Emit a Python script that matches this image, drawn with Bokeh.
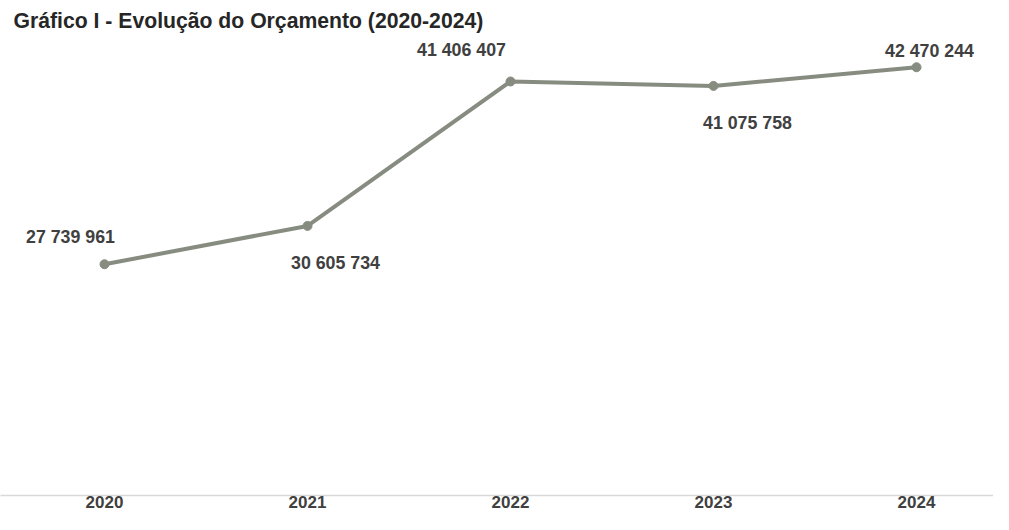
from bokeh.plotting import figure
from bokeh.models import ColumnDataSource, Range1d, FixedTicker, Label
from bokeh.core.properties import value
from bokeh.embed import file_html
from bokeh.resources import INLINE

# ---- data ----
years = ["2020", "2021", "2022", "2023", "2024"]
budget = [27739961, 30605734, 41406407, 41075758, 42470244]
title_text = "Gráfico I - Evolução do Orçamento (2020-2024)"

# ---- styles / label placement (screen px) ----
label_dx = [-34, 28, -49, 34, 13]
label_dy = [-27, 37, -31, 37, -16]
line_color = "#878c80"
label_color = "#404040"
font = "Liberation Sans"

xs = list(range(len(years)))
labels = [f"{v:,}".replace(",", " ") for v in budget]

src = ColumnDataSource(dict(x=xs, y=budget, label=labels, dx=label_dx, dy=label_dy))

W, H = 993, 514
frame_h = 495
px_per_cat = 203.0
x_start = -104.0 / px_per_cat
y_per_px = 74773.0
y_start = 10_000_000 + (501 - frame_h) * y_per_px

p = figure(width=W, height=H, output_backend="svg", toolbar_location=None,
           x_range=Range1d(x_start, x_start + W / px_per_cat),
           y_range=Range1d(y_start, y_start + frame_h * y_per_px),
           y_axis_location=None,
           min_border_left=0, min_border_right=0, min_border_top=0, min_border_bottom=H - frame_h)
p.outline_line_color = None
p.xgrid.grid_line_color = None
p.ygrid.grid_line_color = None
p.background_fill_color = "white"
p.border_fill_color = "white"

p.line("x", "y", source=src, line_color=line_color, line_width=4, line_cap="round", line_join="round")
p.scatter("x", "y", source=src, size=9, fill_color=line_color, line_color=line_color)

p.text("x", "y", text="label", source=src, x_offset="dx", y_offset="dy",
       text_align="center", text_baseline="middle",
       text_font=value(font), text_font_style="bold", text_font_size="17.8px",
       text_color=label_color)

ax = p.xaxis[0]
ax.ticker = FixedTicker(ticks=xs)
ax.major_label_overrides = {i: y for i, y in zip(xs, years)}
ax.major_tick_line_color = None
ax.minor_tick_line_color = None
ax.major_tick_out = 0
ax.major_tick_in = 0
ax.major_label_standoff = 0
ax.axis_line_color = "#d9d9d9"
ax.axis_line_width = 1.5
ax.major_label_text_font = font
ax.major_label_text_font_style = "bold"
ax.major_label_text_font_size = "17px"
ax.major_label_text_color = label_color

p.add_layout(Label(x=13, y=frame_h - 20, x_units="screen", y_units="screen", text=title_text,
                   text_font=font, text_font_style="bold", text_font_size="21.2px",
                   text_color="#262626", text_baseline="middle", text_align="left"))

open("out.html", "w").write(file_html(p, INLINE))
